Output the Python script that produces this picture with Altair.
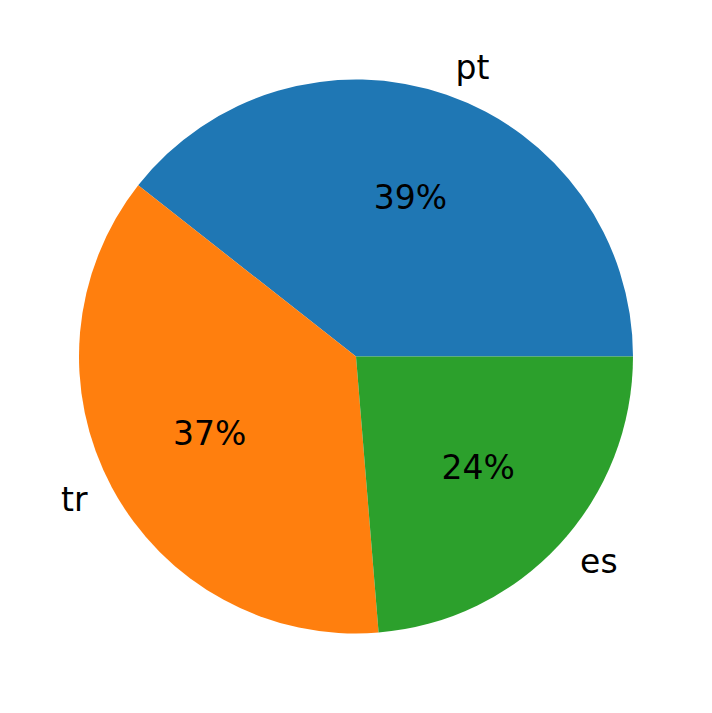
import math

import altair as alt
import pandas as pd

# slices, counter-clockwise from 3 o'clock like the original
labels = ["pt", "tr", "es"]
values = [39.4, 36.9, 23.7]
colors = ["#1f77b4", "#ff7f0e", "#2ca02c"]

df = pd.DataFrame({"label": labels, "value": values, "idx": range(len(labels))})

R = 277
FONT = "DejaVu Sans"

# vega draws clockwise from 12 o'clock, so stack in reverse order and start at 3 o'clock
base = (
    alt.Chart(df)
    .transform_stack(
        stack="value",
        groupby=[],
        as_=["v0", "v1"],
        offset="normalize",
        sort=[alt.SortField("idx", order="descending")],
    )
    .transform_calculate(
        mid="(datum.v0 + datum.v1) / 2",
        pct="format(datum.v1 - datum.v0, '.0%')",
    )
)
theta_scale = alt.Scale(domain=[0, 1], range=[math.pi / 2, math.pi / 2 + 2 * math.pi])

pie = base.mark_arc(radius=R, stroke=None).encode(
    theta=alt.Theta("v0:Q", scale=theta_scale, stack=None),
    theta2="v1:Q",
    color=alt.Color("label:N", scale=alt.Scale(domain=labels, range=colors), legend=None),
)

pct_text = base.mark_text(radius=R * 0.6, font=FONT, fontSize=33, color="black", baseline="middle").encode(
    theta=alt.Theta("mid:Q", scale=theta_scale, stack=None),
    text="pct:N",
)

left_labels = base.transform_filter("datum.label != 'tr'").mark_text(
    radius=R * 1.1, font=FONT, fontSize=33, color="black", align="left", baseline="middle"
).encode(
    theta=alt.Theta("mid:Q", scale=theta_scale, stack=None),
    text="label:N",
)

right_labels = base.transform_filter("datum.label == 'tr'").mark_text(
    radius=R * 1.1, font=FONT, fontSize=33, color="black", align="right", baseline="middle"
).encode(
    theta=alt.Theta("mid:Q", scale=theta_scale, stack=None),
    text="label:N",
)

chart = (
    alt.layer(pie, pct_text, left_labels, right_labels)
    .properties(width=696, height=697, autosize="none", padding=0)
    .configure_view(stroke=None)
)

chart.save("out.html", embed_options={"renderer": "svg", "actions": False})
